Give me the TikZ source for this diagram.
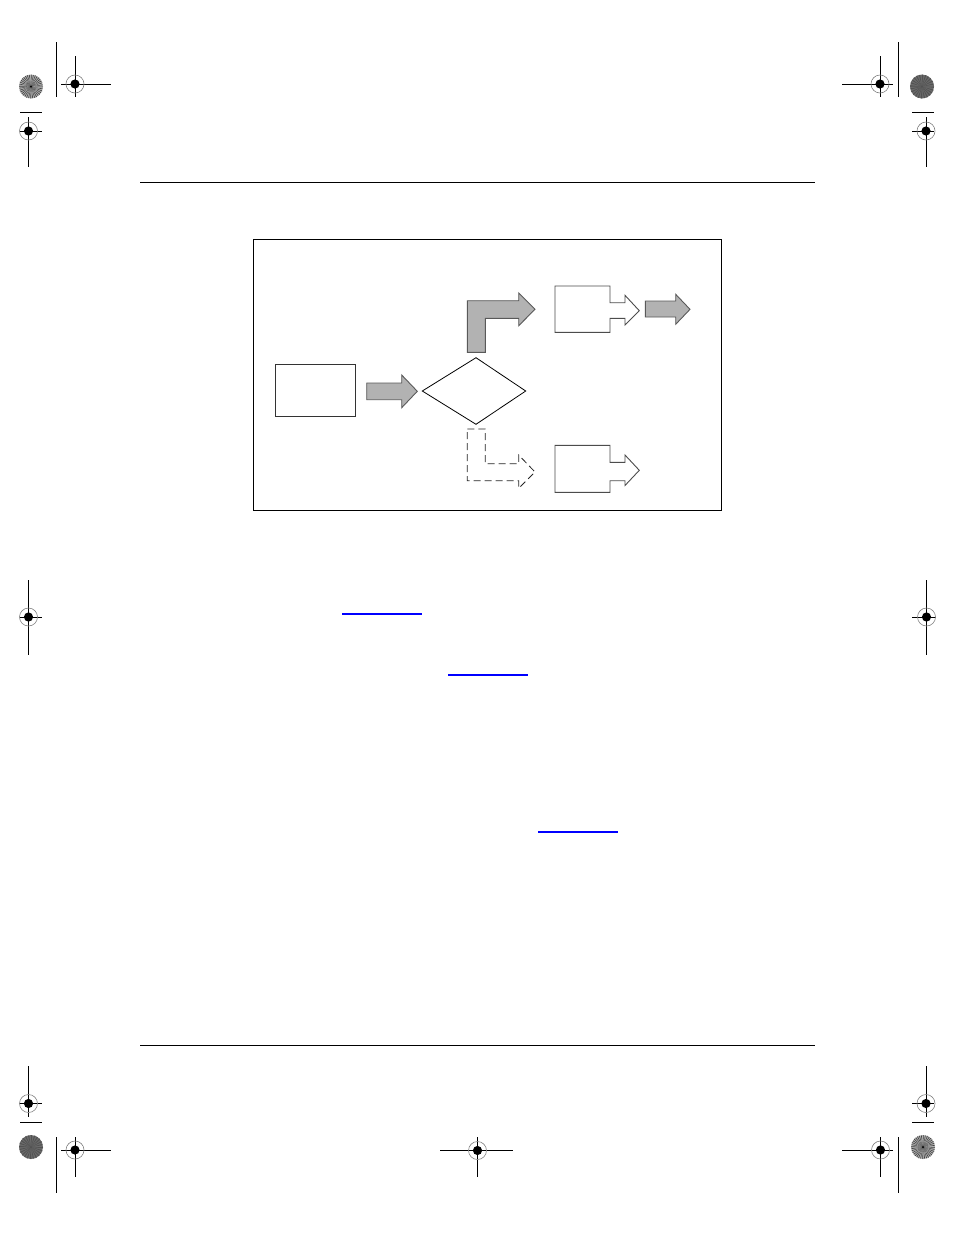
\documentclass[tikz,border=0pt]{standalone}
\usetikzlibrary{calc}
\begin{document}
\begin{tikzpicture}[x=1pt,y=-1pt,
  mark line/.style={line width=1pt,black},
  rule line/.style={line width=0.9pt,black},
  boxline/.style={draw=black!80,line width=0.9pt},
  grayblock/.style={draw=black!65,fill=black!30,line width=0.9pt},
  whiteblock/.style={draw=black!70,fill=white,line width=0.9pt},
  dashblock/.style={draw=black!85,dashed,dash pattern=on 7pt off 4pt,line width=0.8pt},
  linkline/.style={line width=1.2pt,color={rgb,255:red,0;green,0;blue,255}},
  regmark/.pic={
    \draw[black!50,line width=0.6pt] (0,0) circle (9);
    \fill[black] (0,0) circle (4.6);
  },
  starburst/.pic={
    \fill[black!30] (0,0) circle (12);
    \begin{scope}
      \clip (0,0) circle (12);
      \foreach \a in {0,10,...,350}{
        \fill[black!75] (0,0) -- (\a:13) -- (\a+3.5:13) -- cycle;
      }
      \draw[white!60!black,line width=0.5pt] (0,0) circle (6);
    \end{scope}
    \fill[black] (0,0) circle (1);
  },
  darkdisc/.pic={
    \fill[black!58] (0,0) circle (12);
    \begin{scope}
      \clip (0,0) circle (12);
      \foreach \a in {0,15,...,345}{
        \fill[black!68] (0,0) -- (\a:13) -- (\a+6:13) -- cycle;
      }
    \end{scope}
  }]
\useasboundingbox (0,0) rectangle (954,1235);
\fill[white] (0,0) rectangle (954,1235);

% ---------- registration / crop marks ----------
% top-left
\draw[mark line] (56.5,42) -- (56.5,97);
\draw[mark line] (61,84) -- (111,84) (75,56) -- (75,97);
\pic at (75,84) {regmark};
\pic at (31,86.5) {starburst};
\draw[mark line] (20,112) -- (42,112);
\draw[mark line] (20,131) -- (42,131) (28.5,117) -- (28.5,167);
\pic at (28.5,131) {regmark};
% top-right
\draw[mark line] (898,42) -- (898,97);
\draw[mark line] (842,84) -- (893,84) (880,56) -- (880,97);
\pic at (880,84) {regmark};
\pic at (922,86.5) {darkdisc};
\draw[mark line] (912,112) -- (934,112);
\draw[mark line] (912,131) -- (934,131) (926,117) -- (926,167);
\pic at (926,131) {regmark};
% middle
\draw[mark line] (20,617) -- (42,617) (28.5,580) -- (28.5,655);
\pic at (28.5,617) {regmark};
\draw[mark line] (912,617) -- (936,617) (926.5,580) -- (926.5,655);
\pic at (926.5,617) {regmark};
% bottom-left
\draw[mark line] (20,1103.5) -- (42,1103.5) (28.5,1066) -- (28.5,1117);
\pic at (28.5,1103.5) {regmark};
\draw[mark line] (20,1122.5) -- (42,1122.5);
\pic at (31,1147) {darkdisc};
\draw[mark line] (56.5,1137) -- (56.5,1193);
\draw[mark line] (61,1150) -- (111,1150) (75,1137) -- (75,1177);
\pic at (75,1150) {regmark};
% bottom-right
\draw[mark line] (912,1103.5) -- (934,1103.5) (926,1066) -- (926,1117);
\pic at (926,1103.5) {regmark};
\draw[mark line] (912,1122.5) -- (934,1122.5);
\pic at (923,1147) {starburst};
\draw[mark line] (898,1137) -- (898,1193);
\draw[mark line] (842,1150) -- (893,1150) (880.5,1137) -- (880.5,1177);
\pic at (880.5,1150) {regmark};
% bottom-center
\draw[mark line] (440,1150.5) -- (513,1150.5) (477.5,1137) -- (477.5,1177);
\pic at (477.5,1150.5) {regmark};

% ---------- page rules ----------
\draw[rule line] (140,182.5) -- (815,182.5);
\draw[rule line] (140,1045.5) -- (815,1045.5);

% ---------- link underlines ----------
\draw[linkline] (342,614) -- (422,614);
\draw[linkline] (448,675) -- (528,675);
\draw[linkline] (538,832) -- (618,832);

% ---------- figure frame ----------
\node[draw=black,line width=1pt,inner sep=0pt,minimum width=468pt,minimum height=271pt] (frame) at (487.5,374.5) {};

% source box
\node[boxline,inner sep=0pt,minimum width=80.4pt,minimum height=52pt] (src) at (315.5,390.3) {};

% decision diamond
\coordinate (dec) at (474,391);
\draw[draw=black,line width=0.8pt] (422.3,391) -- (476,357.7) -- (525.7,391) -- (476,424.3) -- cycle;

% arrow from source to decision
\draw[grayblock] (366.7,383) -- (401.7,383) -- (401.7,375) -- (417.3,391.3) -- (401.7,407.7) -- (401.7,399.7) -- (366.7,399.7) -- cycle;

% upper L arrow (yes branch)
\draw[grayblock] (467.3,352.3) -- (467.3,300.7) -- (518.7,300.7) -- (518.7,293) -- (535,309.3) -- (518.7,325.7) -- (518.7,318.3) -- (485.3,318.3) -- (485.3,352.3) -- cycle;

% lower dashed L arrow (no branch)
\draw[dashblock] (467.3,429) -- (485.3,429) -- (485.3,463.7) -- (518.7,463.7) -- (518.7,455) -- (535,472) -- (518.7,488.3) -- (518.7,480.7) -- (467.3,480.7) -- cycle;

% upper result box with outgoing arrow
\draw[whiteblock] (555,286) -- (610,286) -- (610,302.7) -- (625,302.7) -- (625,295.3) -- (639.3,310.7) -- (625,325) -- (625,318.3) -- (610,318.3) -- (610,332.3) -- (555,332.3) -- cycle;
\coordinate (res1) at (582,309);

% lower result box with outgoing arrow
\draw[whiteblock] (555,445.3) -- (610,445.3) -- (610,462.3) -- (625,462.3) -- (625,455) -- (639.3,470.3) -- (625,485.5) -- (625,480.7) -- (610,480.7) -- (610,492.3) -- (555,492.3) -- cycle;
\coordinate (res2) at (582,469);

% final gray arrow
\draw[grayblock] (645.3,301) -- (675.7,301) -- (675.7,294.3) -- (690,309.3) -- (675.7,324.3) -- (675.7,317) -- (645.3,317) -- cycle;

\end{tikzpicture}
\end{document}
